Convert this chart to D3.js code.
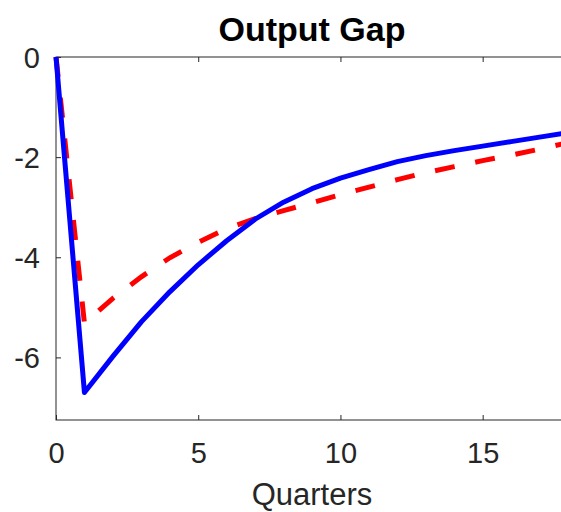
<!DOCTYPE html>
<meta charset="utf-8">
<style>
body { margin: 0; background: #fff; }
text { font-family: "Liberation Sans", Arial, sans-serif; fill: #262626; }
.axis path, .axis line { stroke: #262626; }
</style>
<body>
<script src="https://cdn.jsdelivr.net/npm/d3@7"></script>
<script>
// quarters 0..18
var quarters = d3.range(0, 19);
var blueSeries = [0, -6.70, -5.98, -5.29, -4.69, -4.15, -3.67, -3.24, -2.90, -2.63, -2.42, -2.25,
                  -2.09, -1.97, -1.87, -1.78, -1.69, -1.60, -1.51];
var redSeries = [0, -5.32, -4.82, -4.39, -4.01, -3.70, -3.43, -3.23, -3.07, -2.91, -2.75, -2.60,
                 -2.45, -2.31, -2.19, -2.07, -1.96, -1.84, -1.71];
var xTicks = [0, 5, 10, 15];
var yTicks = [0, -2, -4, -6];

var width = 561, height = 512;
var margin = {top: 57, left: 56, right: 568, bottom: 420};

var svg = d3.select("body").append("svg")
    .attr("width", width)
    .attr("height", height);

var x = d3.scaleLinear().domain([0, 18]).range([margin.left, margin.right]);
var y = d3.scaleLinear().domain([-7.25, 0]).range([margin.bottom, margin.top]);

// box
svg.append("rect")
    .attr("x", margin.left).attr("y", margin.top)
    .attr("width", margin.right - margin.left)
    .attr("height", margin.bottom - margin.top)
    .attr("fill", "none").attr("stroke", "#262626").attr("stroke-width", 1);

var xAxis = svg.append("g").attr("class", "axis")
    .attr("transform", "translate(0," + margin.bottom + ")")
    .call(d3.axisBottom(x).tickValues(xTicks).tickSize(-5).tickPadding(22).tickFormat(d3.format("d")));
var xTop = svg.append("g").attr("class", "axis")
    .attr("transform", "translate(0," + margin.top + ")")
    .call(d3.axisTop(x).tickValues(xTicks).tickSize(-5).tickFormat(""));
var yAxis = svg.append("g").attr("class", "axis")
    .attr("transform", "translate(" + margin.left + ",0)")
    .call(d3.axisLeft(y).tickValues(yTicks).tickSize(-5).tickPadding(16)
      .tickFormat(function(d) { return d === 0 ? "0" : String(d).replace("\u2212", "-"); }));

svg.selectAll(".axis .domain").remove();
svg.selectAll(".axis text").style("font-size", "29px").attr("fill", "#262626");
yAxis.selectAll("text").attr("dy", "0.36em");

var line = d3.line()
    .x(function(d, i) { return x(quarters[i]); })
    .y(function(d) { return y(d); });

var plot = svg.append("g");

plot.append("path")
    .datum(redSeries)
    .attr("d", line)
    .attr("fill", "none")
    .attr("stroke", "#ff0000")
    .attr("stroke-width", 5)
    .attr("stroke-dasharray", "20,21");

plot.append("path")
    .datum(blueSeries)
    .attr("d", line)
    .attr("fill", "none")
    .attr("stroke", "#0000ff")
    .attr("stroke-width", 5)
    .attr("stroke-linejoin", "round");

svg.append("text")
    .attr("x", (margin.left + margin.right) / 2)
    .attr("y", 41)
    .attr("text-anchor", "middle")
    .style("font-size", "34px")
    .style("font-weight", "bold")
    .style("fill", "#000")
    .text("Output Gap");

svg.append("text")
    .attr("x", (margin.left + margin.right) / 2)
    .attr("y", 505)
    .attr("text-anchor", "middle")
    .style("font-size", "31px")
    .text("Quarters");
</script>
